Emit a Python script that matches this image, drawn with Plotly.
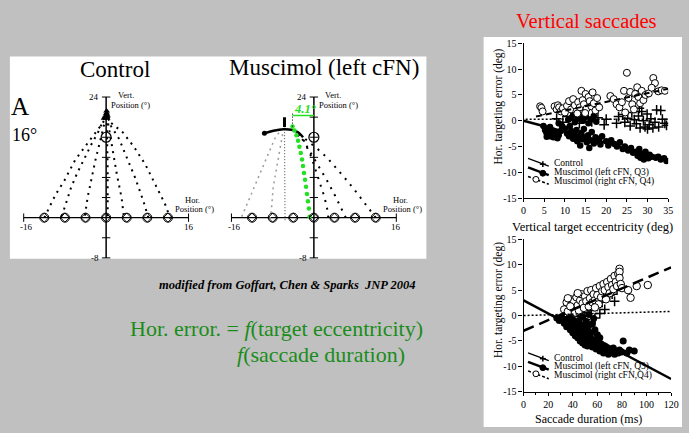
import plotly.graph_objects as go

W, H = 689, 433
SERIF = "Liberation Serif, Times New Roman, serif"
BG = "#c0c0c0"
GREEN_TXT = "#1a8c1a"
LIME = "#22e022"


def fx(px):
    return px / W


def fy(py):
    return 1 - py / H


# ---------------- data : trajectory panels ----------------
target_x = [-12, -8, -4, 0, 4, 8, 12]
target_y = [0, 0, 0, 0, 0, 0, 0]
fix_x, fix_y = [0], [16]
vtick_y = [-8, -4, 4, 8, 12, 16, 20, 24]
htick_x = [-16, 16]
h_axis_x = [-16, 16]
v_axis_y = [-8, 24]

ctrl_traj_x = [
    [-12.0, -10.9, -9.8, -8.1, -6.0, -3.9, -2.0, -0.6, 0.0],
    [-8.6, -7.8, -6.8, -5.6, -4.25, -2.8, -1.4, -0.4],
    [-4.1, -3.6, -2.8, -2.0, -1.05, -0.4, 0.0],
    [0.3, 0.35, 0.3, 0.2, 0.1],
    [3.4, 3.0, 2.1, 1.5, 0.8, 0.2],
    [8.2, 7.2, 5.65, 4.1, 2.5, 0.9, 0.2],
    [12.5, 11.4, 9.5, 7.6, 5.4, 3.2, 0.9, 0.1],
]
ctrl_traj_y = [
    [0.0, 2.3, 4.6, 7.4, 11.5, 14.4, 17.0, 18.9, 20.6],
    [0.3, 3.0, 6.0, 8.9, 11.8, 14.7, 17.3, 19.8],
    [0.4, 4.0, 7.9, 11.8, 15.7, 18.3, 20.2],
    [0.3, 5.0, 10.0, 15.0, 20.8],
    [0.5, 4.0, 8.5, 12.4, 16.3, 19.8],
    [0.0, 3.4, 7.9, 11.8, 15.7, 18.3, 20.4],
    [-0.2, 2.8, 6.7, 10.6, 14.1, 17.0, 18.9, 21.2],
]

musc_traj_x = [
    [12.0, 10.8, 8.6, 6.5, 4.5, 2.6, 0.9, -0.8, -2.3, -3.7],
    [6.2, 5.2, 4.1, 2.6, 0.8, -0.8, -2.0, -3.1],
    [2.8, 2.5, 1.9, 0.6, -0.5, -2.1, -3.4],
]
musc_traj_y = [
    [0.0, 1.7, 4.6, 7.3, 9.7, 11.9, 13.5, 15.0, 16.2, 17.1],
    [0.0, 2.2, 4.4, 7.3, 10.4, 13.4, 15.3, 16.6],
    [0.0, 2.3, 4.6, 8.9, 12.1, 15.7, 16.6],
]
musc_gray_x = [
    [-14.0, -12.4, -11.1, -9.8, -8.5, -7.6, -6.3],
    [-8.5, -8.2, -7.9, -7.2, -6.6, -6.0],
]
musc_gray_y = [
    [0.2, 4.1, 7.3, 10.5, 13.7, 15.7, 17.6],
    [-0.3, 2.1, 6.0, 9.9, 13.7, 17.0],
]
musc_vert_x = [-5.6, -5.6, -5.7]
musc_vert_y = [-0.5, 10.0, 19.0]
musc_arc_x = [-9.6, -7.85, -5.9, -4.35, -3.07, -2.1]
musc_arc_y = [16.8, 17.3, 17.6, 17.5, 17.0, 16.0]
green_x = [-0.83, -0.96, -1.15, -1.34, -1.53, -1.72, -1.92, -2.11, -2.30,
           -2.55, -2.81, -3.07, -3.38, -3.77, -4.15]
green_y = [0.20, 1.81, 3.29, 4.71, 6.13, 7.55, 8.90, 10.26, 11.55,
           12.84, 14.13, 15.29, 16.38, 17.35, 18.12]
deviation_label = "4.1°"
bracket_y = 20.3

# ---------------- data : eccentricity scatter ----------------
ecc_left_x = [4.8, 5.2, 5.5, 5.8, 6.0, 6.2, 6.5, 6.8, 7.0, 7.2, 7.5, 5.6, 6.4, 7.8, 8.2, 8.5, 9.0, 8.5, 9.3,
              10.0, 10.5, 11.0, 11.2, 11.5, 12.0, 12.3, 12.8, 13.0, 13.3, 13.7, 14.0, 14.2, 14.6, 15.0, 15.3, 15.6,
              15.9, 16.2, 16.5, 17.0, 17.4, 17.8, 18.3, 18.6, 19.0,
              10.8, 11.6, 12.4, 13.1, 13.8, 14.4, 15.1, 15.7, 16.3, 17.0, 17.6, 12.0, 14.8,
              20.0, 20.5, 21.2, 22.0, 22.6, 23.3, 24.0, 24.5, 25.3, 26.0, 26.5,
              27.2, 27.6, 28.0, 28.3, 28.7, 29.1, 29.5, 29.8, 30.2, 30.5, 31.0,
              32.0, 32.6, 33.2, 34.0, 34.6]
ecc_left_y = [-1.0, -1.8, -2.3, -1.5, -2.8, -2.0, -3.0, -2.5, -1.9, -3.2, -2.6, -3.1, -1.2, -2.2, -3.4, -2.8, -2.0, -0.5, -1.0,
              -1.5, -2.5, -3.0, -1.0, -2.0, -3.5, -2.7, -1.8, -4.0, -3.0, -4.8, -2.4, -3.6, -1.6, -3.2, -4.2, -2.8,
              -5.3, -3.8, -2.2, -4.4, -3.2, -4.0, -3.5, -4.6, -3.0,
              0.2, 0.6, -0.3, 0.4, 1.0, 0.0, 0.8, -0.5, 0.3, 0.9, -0.2, 1.2, 1.6,
              -4.0, -4.8, -3.8, -4.5, -5.0, -4.2, -5.5, -5.0, -5.8, -5.3, -6.2,
              -6.0, -6.8, -5.5, -7.2, -6.4, -7.5, -6.0, -6.9, -7.3, -6.6, -7.0,
              -7.2, -7.0, -7.5, -7.3, -7.8]
ecc_right_x = [4.0, 4.3, 4.6, 7.5, 8.0, 8.3, 8.6, 9.0, 9.5, 10.0,
               10.5, 11.0, 11.5, 12.0, 12.4, 12.8, 13.2, 13.6, 14.0, 14.3, 14.6, 15.0, 15.3, 15.7, 16.0, 16.4,
               16.7, 17.0, 17.4, 17.8, 18.3, 14.9, 13.0,
               21.0, 21.8, 22.5, 23.2, 23.8, 24.3, 24.6, 25.0, 25.4, 25.8, 26.3, 26.7,
               27.0, 27.5, 27.8, 28.2, 28.6, 29.0, 29.5, 30.3, 31.4, 31.8, 31.0, 32.6, 33.4, 34.2]
ecc_right_y = [2.8, 2.5, 1.8, 2.8, 2.2, 3.0, 2.6, 1.8, 2.4, 1.6,
               2.9, 3.8, 2.2, 4.2, 3.0, 1.8, 3.6, 2.6, 5.8, 4.0, 3.2, 5.2, 2.4, 4.6, 3.8, 2.8,
               5.5, 3.4, 2.0, 4.4, 2.6, 1.5, 1.4,
               4.8, 4.2, 3.2, 2.6, 3.6, 5.8, 1.6, 9.3, 4.4, 5.6, 3.2, 2.2,
               5.2, 6.5, 4.6, 3.4, 5.8, 4.0, 5.0, 5.3, 8.3, 7.3, 6.4, 5.7, 5.9, 5.8]
ecc_ctrl_x = [8.0, 9.5, 10.5, 12.0, 13.5, 15.0, 16.5, 18.0, 19.5, 20.0, 22.5, 23.0,
              24.0, 24.5, 25.2, 25.8, 26.2, 26.8, 27.3, 27.8, 28.2, 28.6, 29.0, 29.4, 29.9, 30.4, 30.8,
              31.3, 31.8, 32.2, 32.7, 33.2, 33.6, 34.2, 34.6, 28.0, 30.0]
ecc_ctrl_y = [0.4, -0.3, 0.8, 0.2, -0.5, 0.5, -0.2, 0.6, -0.8, 0.3, -0.5, 0.8,
              1.2, -0.3, 0.5, -1.0, 1.6, 0.2, -0.6, 0.9, -1.4, 1.8, 0.0, -1.2, 1.3, -0.8, 0.4,
              -1.4, -0.3, 2.1, -1.2, 2.0, 0.3, -0.5, -0.9, 2.4, -1.6]
ecc_fit_left = ([0, 35], [0.0, -7.5])
ecc_fit_right = ([3, 35], [0.8, 6.2])
ecc_fit_ctrl = ([0.5, 35], [0.3, 0.3])

# ---------------- data : duration scatter ----------------
dur_left_x = [27, 29, 31, 33, 34, 35, 36, 37, 38, 39, 40, 40, 41, 42, 42, 43, 44, 44, 45, 45,
              46, 46, 47, 47, 48, 48, 49, 49, 50, 50, 51, 51, 52, 52, 53, 53, 54, 55, 55, 56,
              56, 57, 58, 58, 59, 60, 60, 61, 62, 62, 63, 64, 65, 66, 67, 68, 69, 70, 72, 73,
              74, 75, 77, 78, 80, 81, 84, 86, 90, 38, 43, 48, 53, 57]
dur_left_y = [-0.5, -1.0, -0.3, -1.5, -0.8, -2.2, -1.2, -0.4, -2.8, -1.8,
              -3.4, -0.8, -2.4, -1.4, -4.0, -3.0, -2.0, -4.4, -3.6, -1.0,
              -2.8, -5.0, -4.0, -1.8, -3.2, -5.4, -4.6, -2.4, -3.8, -5.8,
              -4.8, -1.2, -3.0, -6.0, -5.2, -2.0, -4.2, -5.6, -3.4, -6.2,
              -1.6, -4.8, -5.8, -2.8, -6.6, -5.0, -3.8, -6.2, -7.0, -4.4,
              -5.6, -6.8, -7.4, -6.0, -7.2, -6.4, -7.6, -6.8, -7.2, -6.4,
              -7.6, -7.0, -7.4, -6.8, -7.2, -5.0, -7.4, -6.8, -7.0,
              -0.2, 0.4, -0.3, 0.2, -0.6]
dur_right_x = [33, 35, 36, 38, 40, 41, 42, 43, 44, 45,
               46, 47, 48, 49, 50, 51, 52, 53, 54, 55, 56, 57, 58, 59,
               60, 61, 62, 63, 64, 65, 66, 67, 68, 69, 70, 71, 72, 73, 74, 75, 76, 77,
               78, 78, 78, 79, 80, 85, 87, 92, 101, 36, 38, 44, 58]
dur_right_y = [1.2, 2.6, 0.8, 3.2, 1.5, 2.8, 0.6, 3.6, 2.0, 1.0,
               3.0, 4.2, 2.4, 1.5, 3.8, 2.8, 4.8, 1.8, 3.4, 5.0, 2.6, 4.2, 3.0, 5.4,
               4.0, 2.2, 5.8, 3.6, 4.8, 6.2, 5.0, 3.2, 6.6, 5.6, 4.4, 7.2, 6.0, 5.2, 7.8, 6.6, 5.8, 8.2,
               9.2, 8.6, 7.4, 6.2, 5.4, 5.0, 3.5, 5.8, 6.0, 3.4, 1.8, 4.4, 1.6]
dur_ctrl_x = [36, 40, 44, 46, 48, 50, 52, 55, 56, 58, 60, 62, 63, 64, 66, 70, 72, 74, 76]
dur_ctrl_y = [1.0, 0.2, 1.5, -0.2, 0.6, -0.8, 2.2, 1.0, 3.0, -0.5, 1.8, 0.4, 4.5, 2.6, 1.2, 4.0, 4.2, 2.8, 5.0]
dur_fit_left = ([0, 120], [3.0, -12.5])
dur_fit_right = ([0, 120], [-3.0, 9.5])
dur_fit_ctrl = ([0, 120], [0.0, 0.8])

y_ticks = [-15, -10, -5, 0, 5, 10, 15]
y_ticktext = ["-15", "-10", "-5", "0", "5", "10", "15"]
ecc_ticks = [0, 5, 10, 15, 20, 25, 30, 35]
dur_ticks = [0, 20, 40, 60, 80, 100, 120]
legend_top = ["Control", "Muscimol (left cFN, Q3)", "Muscimol (right cFN, Q4)"]
legend_bot = ["Control", "Muscimol (left cFN, Q3)", "Muscimol (right cFN,Q4)"]

# ---------------- figure ----------------
fig = go.Figure()
annotations = []
shapes = []

# background panels
shapes.append(dict(type="rect", xref="paper", yref="paper", x0=fx(8), x1=fx(430), y0=fy(260), y1=fy(52),
                   fillcolor="white", line=dict(width=0), layer="below"))
shapes.append(dict(type="rect", xref="paper", yref="paper", x0=fx(488), x1=fx(689), y0=fy(433), y1=fy(32),
                   fillcolor="white", line=dict(width=0), layer="below"))


def add_axes_cross(xa, ya):
    fig.add_trace(go.Scatter(x=h_axis_x, y=[0, 0], mode="lines", line=dict(color="black", width=1.2),
                             xaxis=xa, yaxis=ya, hoverinfo="skip", cliponaxis=False))
    fig.add_trace(go.Scatter(x=[0, 0], y=v_axis_y, mode="lines", line=dict(color="black", width=1.5),
                             xaxis=xa, yaxis=ya, hoverinfo="skip", cliponaxis=False))
    fig.add_trace(go.Scatter(x=[0] * len(vtick_y), y=vtick_y, mode="markers",
                             marker=dict(symbol="line-ew", size=6, color="black", line=dict(color="black", width=1)),
                             xaxis=xa, yaxis=ya, hoverinfo="skip", cliponaxis=False))
    fig.add_trace(go.Scatter(x=htick_x, y=[0, 0], mode="markers",
                             marker=dict(symbol="line-ns", size=6, color="black", line=dict(color="black", width=1)),
                             xaxis=xa, yaxis=ya, hoverinfo="skip", cliponaxis=False))


def add_targets(xa, ya):
    fig.add_trace(go.Scatter(x=target_x, y=target_y, mode="markers",
                             marker=dict(symbol="circle-open", size=9, color="black",
                                         line=dict(color="black", width=1)),
                             xaxis=xa, yaxis=ya, hoverinfo="skip", cliponaxis=False))
    fig.add_trace(go.Scatter(x=target_x, y=target_y, mode="markers",
                             marker=dict(symbol="diamond-open", size=7, color="black",
                                         line=dict(color="black", width=1)),
                             xaxis=xa, yaxis=ya, hoverinfo="skip", cliponaxis=False))
    fig.add_trace(go.Scatter(x=fix_x, y=fix_y, mode="markers",
                             marker=dict(symbol="circle-open", size=10, color="black",
                                         line=dict(color="black", width=1.2)),
                             xaxis=xa, yaxis=ya, hoverinfo="skip", cliponaxis=False))


def add_panel_labels(xa, ya):
    f9 = dict(family=SERIF, size=9, color="black")
    f8 = dict(family=SERIF, size=8.5, color="black")
    annotations.extend([
        dict(xref=xa, yref=ya, x=-0.9, y=24, text="24", showarrow=False, xanchor="right", yanchor="middle", font=f9),
        dict(xref=xa, yref=ya, x=-0.9, y=-8, text="-8", showarrow=False, xanchor="right", yanchor="middle", font=f9),
        dict(xref=xa, yref=ya, x=-15.6, y=-1.9, text="-16", showarrow=False, xanchor="center", yanchor="middle", font=f9),
        dict(xref=xa, yref=ya, x=16.0, y=-1.9, text="16", showarrow=False, xanchor="center", yanchor="middle", font=f9),
        dict(xref=xa, yref=ya, x=3.8, y=24.4, text="Vert.", showarrow=False, xanchor="center", yanchor="middle", font=f8),
        dict(xref=xa, yref=ya, x=4.7, y=22.4, text="Position (°)", showarrow=False, xanchor="center", yanchor="middle", font=f8),
        dict(xref=xa, yref=ya, x=16.8, y=3.6, text="Hor.", showarrow=False, xanchor="center", yanchor="middle", font=f8),
        dict(xref=xa, yref=ya, x=17.2, y=1.7, text="Position (°)", showarrow=False, xanchor="center", yanchor="middle", font=f8),
    ])


# ---- Control panel ----
add_axes_cross("x", "y")
for xs, ys in zip(ctrl_traj_x, ctrl_traj_y):
    fig.add_trace(go.Scatter(x=xs, y=ys, mode="lines", line=dict(color="black", width=2, dash="2px,5px"),
                             xaxis="x", yaxis="y", hoverinfo="skip", cliponaxis=False))
    fig.add_trace(go.Scatter(x=[xs[-1]], y=[ys[-1]], mode="markers",
                             marker=dict(symbol="triangle-up", size=6, color="black"),
                             xaxis="x", yaxis="y", hoverinfo="skip", cliponaxis=False))
add_targets("x", "y")
add_panel_labels("x", "y")

# ---- Muscimol panel ----
add_axes_cross("x2", "y2")
for xs, ys in zip(musc_gray_x, musc_gray_y):
    fig.add_trace(go.Scatter(x=xs, y=ys, mode="lines", line=dict(color="#9a9a9a", width=1.5, dash="2px,4px"),
                             xaxis="x2", yaxis="y2", hoverinfo="skip", cliponaxis=False))
fig.add_trace(go.Scatter(x=musc_vert_x, y=musc_vert_y, mode="lines",
                         line=dict(color="#444444", width=1, dash="1px,2px"),
                         xaxis="x2", yaxis="y2", hoverinfo="skip", cliponaxis=False))
fig.add_trace(go.Scatter(x=[musc_vert_x[-1]], y=[musc_vert_y[-1]], mode="markers",
                         marker=dict(symbol="line-ns", size=7, color="black", line=dict(color="black", width=3)),
                         xaxis="x2", yaxis="y2", hoverinfo="skip", cliponaxis=False))
for xs, ys in zip(musc_traj_x, musc_traj_y):
    fig.add_trace(go.Scatter(x=xs, y=ys, mode="lines", line=dict(color="black", width=2, dash="2px,6px"),
                             xaxis="x2", yaxis="y2", hoverinfo="skip", cliponaxis=False))
fig.add_trace(go.Scatter(x=musc_arc_x, y=musc_arc_y, mode="lines", line=dict(color="black", width=2.5, shape="spline"),
                         xaxis="x2", yaxis="y2", hoverinfo="skip", cliponaxis=False))
fig.add_trace(go.Scatter(x=[musc_arc_x[0]], y=[musc_arc_y[0]], mode="markers",
                         marker=dict(size=5, color="black"),
                         xaxis="x2", yaxis="y2", hoverinfo="skip", cliponaxis=False))
fig.add_trace(go.Scatter(x=green_x, y=green_y, mode="markers", marker=dict(size=4.5, color=LIME),
                         xaxis="x2", yaxis="y2", hoverinfo="skip", cliponaxis=False))
# deviation bracket (from green endpoint to the vertical axis)
gx = green_x[-1]
fig.add_trace(go.Scatter(x=[gx, 0], y=[bracket_y, bracket_y], mode="lines", line=dict(color=LIME, width=1.5),
                         xaxis="x2", yaxis="y2", hoverinfo="skip", cliponaxis=False))
fig.add_trace(go.Scatter(x=[gx, gx], y=[green_y[-1], bracket_y + 0.5], mode="lines",
                         line=dict(color="black", width=1, dash="1px,2px"),
                         xaxis="x2", yaxis="y2", hoverinfo="skip", cliponaxis=False))
add_targets("x2", "y2")
add_panel_labels("x2", "y2")
annotations.append(dict(xref="x2", yref="y2", x=gx / 2 + 0.4, y=bracket_y + 1.25,
                        text="<b><i>" + deviation_label + "</i></b>",
                        showarrow=False, xanchor="center", yanchor="middle",
                        font=dict(family=SERIF, size=12.5, color=LIME)))

# ---- eccentricity scatter ----
fig.add_trace(go.Scatter(x=ecc_ctrl_x, y=ecc_ctrl_y, mode="markers",
                         marker=dict(symbol="cross-thin-open", size=7, color="black", line=dict(color="black", width=1.5)),
                         xaxis="x3", yaxis="y3", hoverinfo="skip"))
fig.add_trace(go.Scatter(x=ecc_left_x, y=ecc_left_y, mode="markers",
                         marker=dict(symbol="circle", size=6.5, color="black"),
                         xaxis="x3", yaxis="y3", hoverinfo="skip"))
fig.add_trace(go.Scatter(x=ecc_right_x, y=ecc_right_y, mode="markers",
                         marker=dict(symbol="circle", size=7, color="white", line=dict(color="black", width=1)),
                         xaxis="x3", yaxis="y3", hoverinfo="skip"))
fig.add_trace(go.Scatter(x=ecc_fit_ctrl[0], y=ecc_fit_ctrl[1], mode="lines",
                         line=dict(color="black", width=1.5, dash="2px,2px"), xaxis="x3", yaxis="y3", hoverinfo="skip"))
fig.add_trace(go.Scatter(x=ecc_fit_left[0], y=ecc_fit_left[1], mode="lines",
                         line=dict(color="black", width=2.5), xaxis="x3", yaxis="y3", hoverinfo="skip"))
fig.add_trace(go.Scatter(x=ecc_fit_right[0], y=ecc_fit_right[1], mode="lines",
                         line=dict(color="black", width=2, dash="6px,4px"), xaxis="x3", yaxis="y3", hoverinfo="skip"))

# ---- duration scatter ----
fig.add_trace(go.Scatter(x=dur_ctrl_x, y=dur_ctrl_y, mode="markers",
                         marker=dict(symbol="cross-thin-open", size=7, color="black", line=dict(color="black", width=1.5)),
                         xaxis="x4", yaxis="y4", hoverinfo="skip"))
fig.add_trace(go.Scatter(x=dur_left_x, y=dur_left_y, mode="markers",
                         marker=dict(symbol="circle", size=7, color="black"),
                         xaxis="x4", yaxis="y4", hoverinfo="skip"))
fig.add_trace(go.Scatter(x=dur_right_x, y=dur_right_y, mode="markers",
                         marker=dict(symbol="circle", size=7.5, color="white", line=dict(color="black", width=1)),
                         xaxis="x4", yaxis="y4", hoverinfo="skip"))
fig.add_trace(go.Scatter(x=dur_fit_ctrl[0], y=dur_fit_ctrl[1], mode="lines",
                         line=dict(color="black", width=1.5, dash="2px,2px"), xaxis="x4", yaxis="y4", hoverinfo="skip"))
fig.add_trace(go.Scatter(x=dur_fit_left[0], y=dur_fit_left[1], mode="lines",
                         line=dict(color="black", width=2.5), xaxis="x4", yaxis="y4", hoverinfo="skip"))
fig.add_trace(go.Scatter(x=dur_fit_right[0], y=dur_fit_right[1], mode="lines",
                         line=dict(color="black", width=2.5, dash="11px,6px"), xaxis="x4", yaxis="y4", hoverinfo="skip"))


# ---- custom legends ----
def add_legend(rows_py, labels):
    for i, (ry, lab) in enumerate(zip(rows_py, labels)):
        annotations.append(dict(xref="paper", yref="paper", x=fx(557), y=fy(ry), text=lab, showarrow=False,
                                xanchor="left", yanchor="middle", font=dict(family=SERIF, size=9.5, color="black")))
        x0, y0, x1, y1 = 533, ry - 5, 554, ry + 3
        if i == 0:
            shapes.append(dict(type="line", xref="paper", yref="paper", x0=fx(x0), y0=fy(y0), x1=fx(x1), y1=fy(y1),
                               line=dict(color="black", width=1.2)))
            cx, cy = 548, ry + 1
            shapes.append(dict(type="line", xref="paper", yref="paper", x0=fx(cx - 3), y0=fy(cy), x1=fx(cx + 3), y1=fy(cy),
                               line=dict(color="black", width=1.5)))
            shapes.append(dict(type="line", xref="paper", yref="paper", x0=fx(cx), y0=fy(cy - 3), x1=fx(cx), y1=fy(cy + 3),
                               line=dict(color="black", width=1.5)))
        elif i == 1:
            shapes.append(dict(type="line", xref="paper", yref="paper", x0=fx(x0), y0=fy(y0), x1=fx(x1), y1=fy(y1),
                               line=dict(color="black", width=2.5)))
            cx, cy = 548, ry + 1
            shapes.append(dict(type="circle", xref="paper", yref="paper", x0=fx(cx - 3), y0=fy(cy + 3),
                               x1=fx(cx + 3), y1=fy(cy - 3), fillcolor="black", line=dict(color="black", width=1)))
        else:
            shapes.append(dict(type="line", xref="paper", yref="paper", x0=fx(x0), y0=fy(y0), x1=fx(x1), y1=fy(y1),
                               line=dict(color="black", width=1.5, dash="3px,2px")))
            cx, cy = 541, ry - 2
            shapes.append(dict(type="circle", xref="paper", yref="paper", x0=fx(cx - 3), y0=fy(cy + 3),
                               x1=fx(cx + 3), y1=fy(cy - 3), fillcolor="white", line=dict(color="black", width=1)))


add_legend([161.7, 171, 180.3], legend_top)
add_legend([361.7, 371, 380.3], legend_bot)

# ---- text on the slide ----
annotations.extend([
    dict(xref="paper", yref="paper", x=fx(115), y=fy(65), text="Control", showarrow=False,
         xanchor="center", yanchor="middle", font=dict(family=SERIF, size=23, color="black")),
    dict(xref="paper", yref="paper", x=fx(326.5), y=fy(63.5), text="Muscimol (left cFN)", showarrow=False,
         xanchor="center", yanchor="middle", font=dict(family=SERIF, size=23, color="black")),
    dict(xref="paper", yref="paper", x=fx(18), y=fy(103), text="A", showarrow=False,
         xanchor="center", yanchor="middle", font=dict(family=SERIF, size=25, color="black")),
    dict(xref="paper", yref="paper", x=fx(22.5), y=fy(132.5), text="16°", showarrow=False,
         xanchor="center", yanchor="middle", font=dict(family=SERIF, size=18, color="black")),
    dict(xref="paper", yref="paper", x=fx(422), y=fy(286.7),
         text="<b><i>modified from Goffart, Chen &amp; Sparks  JNP 2004</i></b>", showarrow=False,
         xanchor="right", yanchor="middle", font=dict(family=SERIF, size=12.5, color="black")),
    dict(xref="paper", yref="paper", x=fx(278), y=fy(331.7),
         text="Hor. error. = <i>f</i>(target eccentricity)", showarrow=False,
         xanchor="center", yanchor="middle", font=dict(family=SERIF, size=22, color=GREEN_TXT)),
    dict(xref="paper", yref="paper", x=fx(323.5), y=fy(358),
         text="<i>f</i>(saccade duration)", showarrow=False,
         xanchor="center", yanchor="middle", font=dict(family=SERIF, size=22, color=GREEN_TXT)),
    dict(xref="paper", yref="paper", x=fx(592), y=fy(15.5), text="Vertical saccades", showarrow=False,
         xanchor="center", yanchor="middle", font=dict(family=SERIF, size=20.5, color="#ff0000")),
    dict(xref="paper", yref="paper", x=fx(503), y=fy(103), text="Hor. targeting error (deg)", showarrow=False,
         textangle=-90, xanchor="center", yanchor="middle", font=dict(family=SERIF, size=11.5, color="black")),
    dict(xref="paper", yref="paper", x=fx(503), y=fy(302), text="Hor. targeting error (deg)", showarrow=False,
         textangle=-90, xanchor="center", yanchor="middle", font=dict(family=SERIF, size=11.5, color="black")),
    dict(xref="paper", yref="paper", x=fx(598), y=fy(227.5), text="Vertical target eccentricity (deg)", showarrow=False,
         xanchor="center", yanchor="middle", font=dict(family=SERIF, size=12.5, color="black")),
    dict(xref="paper", yref="paper", x=fx(594), y=fy(425), text="Saccade duration (ms)", showarrow=False,
         xanchor="center", yanchor="middle", font=dict(family=SERIF, size=12, color="black")),
])

sx = 5.22
sy = 5.17
ax_tick = dict(family=SERIF, size=10, color="black")
scatter_x_common = dict(showline=True, linecolor="black", linewidth=1, ticks="outside", ticklen=3,
                        tickcolor="black", showgrid=False, zeroline=False, tickfont=ax_tick)
scatter_y_common = dict(showline=True, linecolor="black", linewidth=1.2, ticks="outside", ticklen=4,
                        tickcolor="black", showgrid=False, zeroline=False, tickfont=ax_tick,
                        range=[-15, 15], tickvals=y_ticks, ticktext=y_ticktext)

fig.update_layout(
    width=W, height=H, margin=dict(l=0, r=0, t=0, b=0),
    paper_bgcolor=BG, plot_bgcolor="rgba(0,0,0,0)", showlegend=False,
    xaxis=dict(domain=[fx(105.5 - 20 * sx), fx(105.5 + 20 * sx)], range=[-20, 20], visible=False, anchor="y"),
    yaxis=dict(domain=[fy(217.7 + 10 * sy), fy(217.7 - 26 * sy)], range=[-10, 26], visible=False, anchor="x"),
    xaxis2=dict(domain=[fx(316 - 20 * sx), fx(316 + 20 * sx)], range=[-20, 20], visible=False, anchor="y2"),
    yaxis2=dict(domain=[fy(217.7 + 10 * sy), fy(217.7 - 26 * sy)], range=[-10, 26], visible=False, anchor="x2"),
    xaxis3=dict(domain=[fx(528.5), fx(675)], range=[0, 35], tickvals=ecc_ticks, anchor="y3", **scatter_x_common),
    yaxis3=dict(domain=[fy(197.5), fy(38.5)], anchor="x3", **scatter_y_common),
    xaxis4=dict(domain=[fx(528.5), fx(678)], range=[0, 120], tickvals=dur_ticks, anchor="y4",
                minor=dict(ticks="outside", ticklen=2, dtick=10, tickcolor="black"), **scatter_x_common),
    yaxis4=dict(domain=[fy(396.7), fy(240)], anchor="x4", **scatter_y_common),
    shapes=shapes,
    annotations=annotations,
)

fig.write_html("out.html", config={"displayModeBar": False},
               post_script="document.body.style.margin='0px';document.body.style.overflow='hidden';")
